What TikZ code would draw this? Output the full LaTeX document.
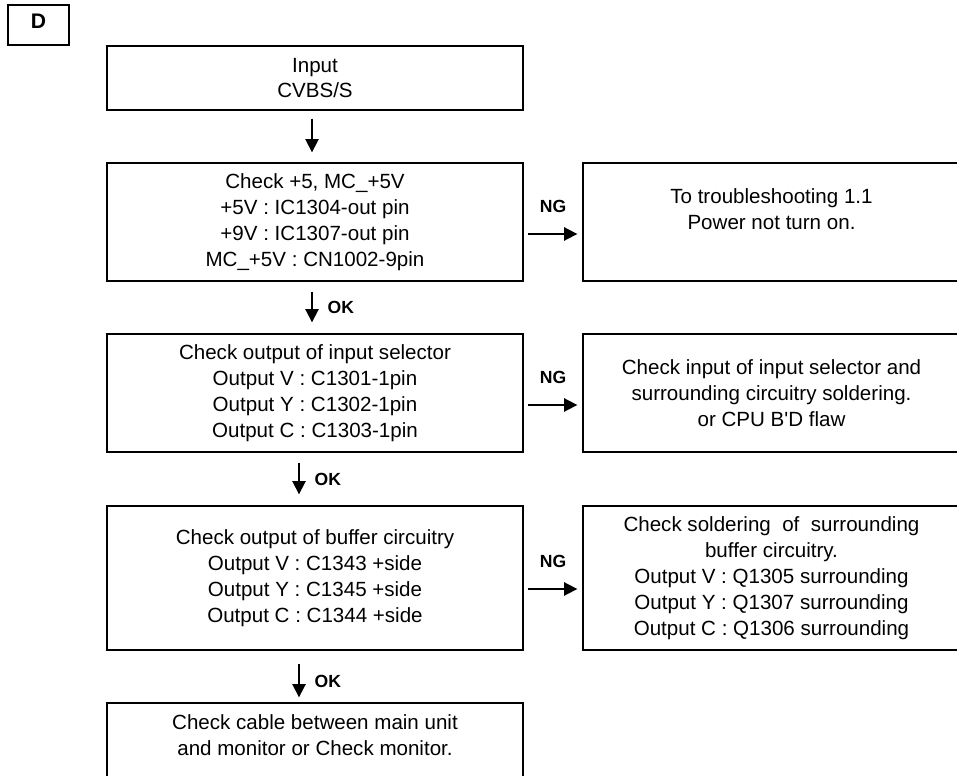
\documentclass[tikz,border=0pt]{standalone}
\usepackage{fontspec}
\setmainfont{Liberation Sans}
\usetikzlibrary{positioning,calc,arrows.meta}

\begin{document}
\begin{tikzpicture}[
    x=0.02cm, y=-0.02cm,
    font=\fontsize{11.7}{14.75}\selectfont,
    box/.style={draw, line width=0.8pt, rectangle, align=center, inner sep=0pt},
    leftbox/.style={box, minimum width=8.32cm},
    rightbox/.style={box, minimum width=7.54cm},
    verdict/.style={font=\fontsize{10}{12}\selectfont\bfseries},
    arrow/.style={-{Triangle[length=7.5pt,width=7.5pt]}, line width=1pt},
    ngarrow/.style={arrow, shorten <=0.08cm, shorten >=0.1cm}
  ]
    \useasboundingbox (0,0) rectangle (957,776);
    \clip (0,0) rectangle (957,776);
    \node[box, minimum width=1.22cm, minimum height=0.8cm, text depth=4.5pt,
      font=\fontsize{12}{14}\selectfont\bfseries] (chart) at (38.5,25) {D};
    \node[leftbox, minimum height=1.28cm] (input) at (315,78) {Input\\CVBS/S};
    \node[leftbox, minimum height=2.36cm] (supply) at (315,222)
      {Check +5, MC\_+5V\\+5V : IC1304-out pin\\+9V : IC1307-out pin\\MC\_+5V : CN1002-9pin};
    \node[rightbox, minimum height=2.36cm] (power) at (771.5,222)
      {To troubleshooting 1.1\\Power not turn on.\\\mbox{}};
    \node[leftbox, minimum height=2.36cm] (selout) at (315,393)
      {Check output of input selector\\Output V : C1301-1pin\\Output Y : C1302-1pin\\Output C : C1303-1pin};
    \node[rightbox, minimum height=2.36cm] (selin) at (771.5,393)
      {Check input of input selector and\\surrounding circuitry soldering.\\or CPU B\textquotesingle D flaw};
    \node[leftbox, minimum height=2.88cm] (bufout) at (315,578)
      {Check output of buffer circuitry\\Output V : C1343 +side\\Output Y : C1345 +side\\Output C : C1344 +side};
    \node[rightbox, minimum height=2.88cm] (bufsold) at (771.5,578)
      {Check soldering~ of~ surrounding\\buffer circuitry.\\Output V : Q1305 surrounding\\Output Y : Q1307 surrounding\\Output C : Q1306 surrounding};
    \node[leftbox, minimum height=2.32cm] (cable) at (315,761)
      {Check cable between main unit\\and monitor or Check monitor.\\\mbox{}\\\mbox{}};
    % OK path
    \draw[arrow, shorten <=0.16cm, shorten >=0.2cm] ([xshift=-0.06cm]input.south) -- ([xshift=-0.06cm]supply.north);
    \draw[arrow, shorten <=0.2cm, shorten >=0.22cm] ([xshift=-0.06cm]supply.south)
      -- node[right=0.18cm, verdict] (ok1) {OK} ([xshift=-0.06cm]selout.north);
    \draw[arrow, shorten <=0.2cm, shorten >=0.22cm] ([xshift=-0.32cm]selout.south)
      -- node[right=0.18cm, verdict] (ok2) {OK} ([xshift=-0.32cm]bufout.north);
    \draw[arrow, shorten <=0.26cm, shorten >=0.1cm] ([xshift=-0.32cm]bufout.south)
      -- node[right=0.18cm, yshift=-0.1cm, verdict] (ok3) {OK} ([xshift=-0.32cm]cable.north);
    % NG path
    \draw[ngarrow] ([yshift=-0.24cm]supply.east) -- node[above=0.3cm, verdict] (ng1) {NG} ([yshift=-0.24cm]power.west);
    \draw[ngarrow] ([yshift=-0.24cm]selout.east) -- node[above=0.3cm, verdict] (ng2) {NG} ([yshift=-0.24cm]selin.west);
    \draw[ngarrow] ([yshift=-0.22cm]bufout.east) -- node[above=0.3cm, verdict] (ng3) {NG} ([yshift=-0.22cm]bufsold.west);
  \end{tikzpicture}
\end{document}
